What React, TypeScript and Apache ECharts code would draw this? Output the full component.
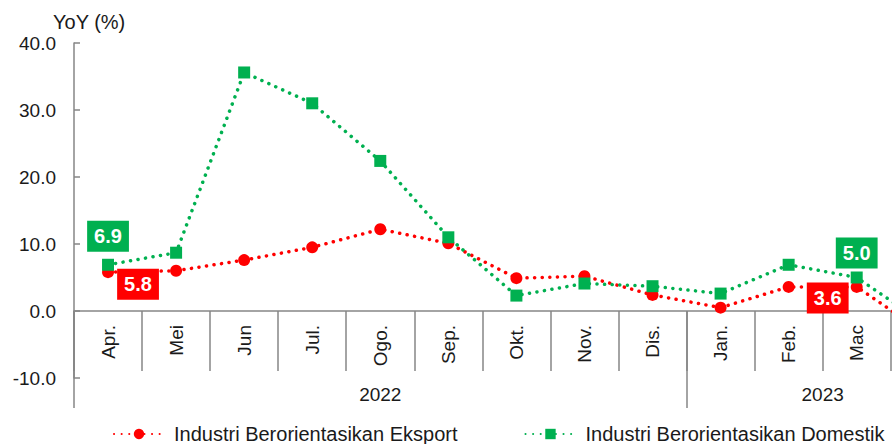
import React, { useEffect, useRef } from 'react';
import * as echarts from 'echarts';

const months = ['Apr.', 'Mei', 'Jun', 'Jul.', 'Ogo.', 'Sep.', 'Okt.', 'Nov.', 'Dis.', 'Jan.', 'Feb.', 'Mac', 'Apr.'];
const years = ['2022', '2023'];
const yearSpans = [9, 4];
const eksport = [5.8, 6.0, 7.6, 9.5, 12.2, 10.1, 4.9, 5.2, 2.4, 0.5, 3.6, 3.6, -3.3];
const domestik = [6.9, 8.7, 35.6, 31.0, 22.4, 11.0, 2.3, 4.1, 3.7, 2.6, 6.9, 5.0, -1.9];
const yMin = -10;
const yMax = 40;
const yStep = 10;
const seriesNames = ['Industri Berorientasikan Eksport', 'Industri Berorientasikan Domestik'];
// categories whose tick label lies inside the visible window
const visibleMonthCount = 12;

const RED = '#FF0000';
const GREEN = '#00B050';
const AXIS = '#868686';
const TEXT = '#1a1a1a';
const FONT = '"Liberation Sans", Arial, sans-serif';

const GRID_H = 335;
const ZERO_OFFSET = -((0 - yMin) / (yMax - yMin)) * GRID_H;

// half-slot data for the year level of the category axis
const yearSlots: string[] = [];
const yearLabelIdx: number[] = [];
const yearTickIdx: number[] = [0];
{
  let pos = 0;
  for (let i = 0; i < years.length; i++) {
    yearLabelIdx.push(pos * 2 + yearSpans[i]);
    pos += yearSpans[i];
    yearTickIdx.push(pos * 2);
  }
  for (let i = 0; i <= months.length * 2; i++) {
    const k = yearLabelIdx.indexOf(i);
    yearSlots.push(k >= 0 ? years[k] : '');
  }
}

const boxLabel = (color: string, offset: number[]) => ({
  show: true,
  position: 'inside',
  offset,
  formatter: (p: any) => Number(p.value).toFixed(1),
  backgroundColor: color,
  color: '#ffffff',
  fontSize: 20,
  fontWeight: 'bold',
  fontFamily: FONT,
  padding: [5, 7, 4, 7],
  lineHeight: 22,
});

const labelled = (vals: number[], labels: Record<number, any>) =>
  vals.map((v, i) => (labels[i] ? { value: v, label: labels[i] } : v));

export default function App() {
  const ref = useRef<HTMLDivElement>(null);
  useEffect(() => {
    if (!ref.current) return;
    const chart = echarts.init(ref.current, undefined, { renderer: 'svg' });
    const dotted = { type: [0.1, 7.5], cap: 'round', width: 3.5 };
    chart.setOption({
      animation: false,
      textStyle: { fontFamily: FONT },
      title: {
        text: 'YoY (%)',
        left: 53,
        top: 12,
        padding: 0,
        textStyle: { fontSize: 20, fontWeight: 'normal', color: TEXT, fontFamily: FONT },
      },
      legend: {
        left: 113,
        top: 424,
        padding: 0,
        itemWidth: 50,
        itemHeight: 13,
        itemGap: 67,
        textStyle: { fontSize: 20, color: TEXT, fontFamily: FONT, padding: [0, 0, 0, 5] },
        data: seriesNames,
      },
      grid: {
        left: 74,
        top: 43,
        right: -66.8,
        bottom: 66,
        outerBoundsMode: 'none',
        containLabel: false,
      },
      xAxis: [
        {
          type: 'category',
          data: months,
          boundaryGap: true,
          axisLine: { onZero: true, lineStyle: { color: AXIS, width: 1.5 } },
          axisTick: { show: false },
          axisLabel: { show: false },
          splitLine: { show: false },
        },
        {
          type: 'category',
          data: yearSlots,
          boundaryGap: false,
          position: 'bottom',
          offset: ZERO_OFFSET,
          axisLine: { show: false, onZero: false },
          axisTick: {
            show: true,
            length: 97,
            lineStyle: { color: AXIS, width: 1.5 },
            interval: (idx: number) => yearTickIdx.indexOf(idx) >= 0,
          },
          axisLabel: {
            interval: (idx: number) => yearLabelIdx.indexOf(idx) >= 0,
            margin: 74,
            fontSize: 19,
            color: TEXT,
            fontFamily: FONT,
          },
          splitLine: { show: false },
        },
        {
          type: 'category',
          data: months,
          boundaryGap: true,
          position: 'bottom',
          offset: ZERO_OFFSET,
          axisLine: { show: false, onZero: false },
          axisTick: { show: true, length: 60, interval: 0, lineStyle: { color: AXIS, width: 1.5 } },
          axisLabel: {
            rotate: 90,
            interval: (idx: number) => idx < visibleMonthCount,
            margin: 14,
            fontSize: 19,
            color: TEXT,
            fontFamily: FONT,
          },
          splitLine: { show: false },
        },
      ],
      yAxis: {
        type: 'value',
        min: yMin,
        max: yMax,
        interval: yStep,
        axisLine: { show: true, lineStyle: { color: AXIS, width: 1.5 } },
        axisTick: { show: true, inside: true, length: 6, lineStyle: { color: AXIS, width: 1.5 } },
        axisLabel: {
          formatter: (v: number) => v.toFixed(1),
          fontSize: 19,
          color: TEXT,
          margin: 18,
          fontFamily: FONT,
        },
        splitLine: { show: false },
      },
      series: [
        {
          name: seriesNames[0],
          type: 'line',
          xAxisIndex: 0,
          data: labelled(eksport, {
            0: boxLabel(RED, [30, 12]),
            11: boxLabel(RED, [-29, 11]),
          }),
          symbol: 'circle',
          symbolSize: 12,
          itemStyle: { color: RED },
          lineStyle: { ...dotted, color: RED },
          z: 2,
        },
        {
          name: seriesNames[1],
          type: 'line',
          xAxisIndex: 0,
          data: labelled(domestik, {
            0: boxLabel(GREEN, [0, -28.5]),
            11: boxLabel(GREEN, [0, -24.5]),
          }),
          symbol: 'rect',
          symbolSize: 12,
          itemStyle: { color: GREEN },
          lineStyle: { ...dotted, color: GREEN },
          z: 3,
        },
      ],
    });
    return () => chart.dispose();
  }, []);
  return (
    <div
      ref={ref}
      style={{ position: 'absolute', left: 0, top: 0, width: 892, height: 444 }}
    />
  );
}
